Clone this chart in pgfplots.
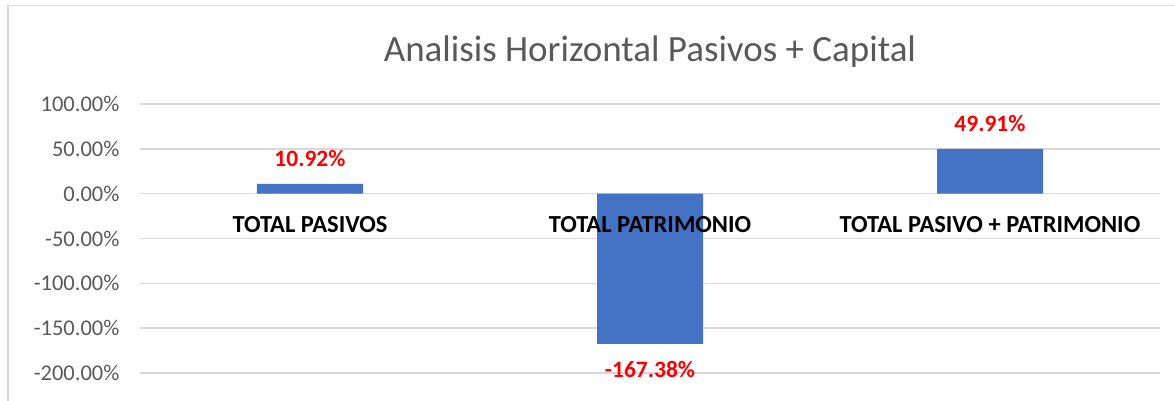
\documentclass[border=0pt]{standalone}
\usepackage{pgfplots}
\pgfplotsset{compat=1.18}
\usepackage{fontspec}
\setmainfont{Carlito}
\definecolor{barblue}{HTML}{4472C4}
\definecolor{gridc}{HTML}{D9D9D9}
\definecolor{txtgray}{HTML}{595959}
\definecolor{lblred}{HTML}{FF0000}
\begin{document}
\begin{tikzpicture}
\useasboundingbox (0,0) rectangle (1175pt,400pt);
\draw[gridc, line width=1.5pt] (8pt,-5pt) -- (8pt,394.5pt) -- (1180pt,394.5pt);
\begin{axis}[
  at={(140pt,27pt)}, anchor=south west,
  scale only axis, width=1020pt, height=269pt,
  xmin=-0.5, xmax=2.5, ymin=-200, ymax=100,
  ytick={-200,-150,...,100},
  xtick={0,1,2}, xticklabels={},
  axis x line=middle, axis y line=left,
  x axis line style={draw=gridc, line width=1.5pt, -},
  y axis line style={draw=none},
  major tick length=0pt,
  ymajorgrids, grid style={draw=gridc, line width=1.5pt},
  /pgf/number format/assume math mode=true,
  yticklabel={\pgfmathprintnumber[fixed,fixed zerofill,precision=2]{\tick}\%},
  yticklabel style={font=\fontsize{22.5}{27}\selectfont, text=txtgray, anchor=east, xshift=-17pt},
  title={Analisis Horizontal Pasivos + Capital},
  title style={font=\fontsize{37}{42}\selectfont, text=txtgray, anchor=center, at={(0.5,1)}, yshift=46pt},
  clip=false,
]
\addplot[ybar, bar width=106pt, fill=barblue, draw=none,
  nodes near coords={\pgfmathprintnumber[fixed,fixed zerofill,precision=2]{\pgfplotspointmeta}\%},
  nodes near coords align={vertical},
  nodes near coords style={font=\fontsize{23.5}{27}\selectfont\bfseries, text=lblred, inner ysep=17pt, inner xsep=0pt},
] coordinates {(0,10.92) (1,-167.38) (2,49.91)};
\addplot[draw=none, mark=none, point meta=explicit symbolic,
  nodes near coords,
  nodes near coords style={font=\fontsize{24.5}{28}\selectfont\bfseries, text=black, anchor=center, yshift=-31pt},
] coordinates {(0,0) [TOTAL PASIVOS] (1,0) [TOTAL PATRIMONIO] (2,0) [TOTAL PASIVO + PATRIMONIO]};
\end{axis}
\end{tikzpicture}
\end{document}
